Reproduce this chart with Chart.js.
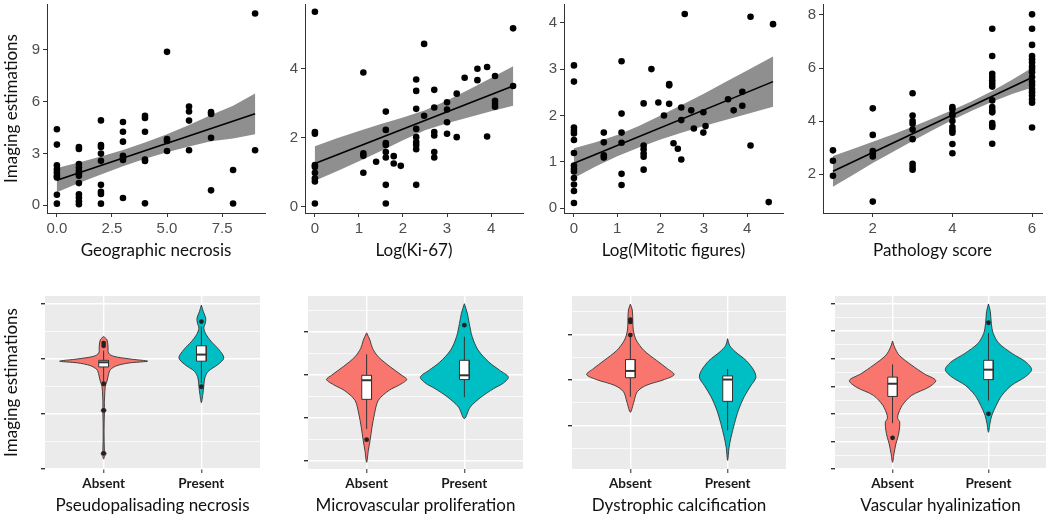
<!DOCTYPE html>
<html>
<head>
<meta charset="utf-8">
<script src="https://cdn.jsdelivr.net/npm/chart.js@4.4.1/dist/chart.umd.min.js"></script>
<style>
  html, body { margin: 0; padding: 0; background: #fff; width: 1050px; height: 516px; overflow: hidden; }
  canvas { position: absolute; }
</style>
</head>
<body>
<canvas id="necrosis" width="270" height="266" style="left:0;top:0"></canvas>
<canvas id="ki67" width="260" height="266" style="left:270px;top:0"></canvas>
<canvas id="mitotic" width="260" height="266" style="left:530px;top:0"></canvas>
<canvas id="pathology" width="260" height="266" style="left:790px;top:0"></canvas>
<canvas id="pseudo" width="270" height="246" style="left:0;top:270px"></canvas>
<canvas id="microvasc" width="260" height="246" style="left:270px;top:270px"></canvas>
<canvas id="calcif" width="260" height="246" style="left:530px;top:270px"></canvas>
<canvas id="hyalin" width="260" height="246" style="left:790px;top:270px"></canvas>
<script>
// ---- top row: imaging estimation vs pathology measure ----
const necrosisLevels = [0, 1, 2, 3, 4, 5, 6, 7, 8, 9];
const necrosisValues = [
  [4.40, 3.51, 2.31, 2.09, 1.90, 1.71, 1.61, 0.61, 0.09],
  [3.37, 3.26, 2.38, 2.19, 2.00, 1.85, 1.71, 1.28, 0.63, 0.44, 0.23, 0.06],
  [4.91, 3.49, 3.37, 2.99, 2.57, 1.18, 0.78, 0.65, 0.09],
  [4.82, 4.25, 3.68, 2.86, 2.72, 2.62, 0.42],
  [5.18, 5.05, 4.25, 2.64, 2.56, 0.11],
  [8.88, 3.83, 3.72, 3.14],
  [5.71, 5.43, 4.90, 3.18],
  [5.39, 5.28, 3.90, 0.86],
  [2.04, 0.10],
  [11.10, 3.18]
];
const necrosisFitX = [0, 9];
const necrosisFitY = [1.45, 5.29];
const necrosisBandX = [0, 1, 2, 3, 4, 5, 6, 7, 8, 9];
const necrosisBandLo = [0.75, 1.28, 1.78, 2.26, 2.69, 3.07, 3.40, 3.71, 3.86, 4.11];
const necrosisBandHi = [2.15, 2.48, 2.82, 3.20, 3.63, 4.11, 4.64, 5.23, 5.76, 6.47];

const ki67Levels = [0, 1.1, 1.39, 1.61, 1.79, 1.95, 2.3, 2.48, 2.71, 3.0, 3.22, 3.4, 3.69, 3.91, 4.09, 4.5];
const ki67Values = [
  [5.65, 2.17, 2.12, 1.21, 1.16, 0.99, 0.83, 0.74, 0.10],
  [3.89, 1.55, 1.48, 0.99],
  [1.31],
  [2.76, 2.23, 1.85, 1.79, 1.59, 1.43, 0.64, 0.10],
  [1.47, 1.26],
  [1.19],
  [3.69, 3.36, 2.84, 2.26, 2.02, 1.88, 1.79, 1.67, 0.64],
  [4.72, 2.64],
  [3.39, 2.88, 2.17, 2.07, 1.59, 1.43],
  [3.03, 2.82, 2.45, 2.12],
  [3.28, 2.02],
  [3.74],
  [4.00, 3.67],
  [4.05, 2.04],
  [3.79, 3.07, 2.98, 2.90],
  [5.17, 3.50]
];
const ki67FitX = [0, 4.5];
const ki67FitY = [1.26, 3.50];
const ki67BandX = [0, 0.5, 1, 1.5, 2, 2.5, 3, 3.5, 4, 4.5];
const ki67BandLo = [0.76, 1.03, 1.32, 1.62, 1.93, 2.22, 2.42, 2.60, 2.77, 2.93];
const ki67BandHi = [1.76, 1.99, 2.20, 2.40, 2.59, 2.80, 3.08, 3.40, 3.73, 4.07];

const mitoticLevels = [0, 0.69, 1.1, 1.61, 1.79, 1.95, 2.08, 2.2, 2.3, 2.4, 2.48, 2.56, 2.71, 2.77, 2.99, 3.04, 3.56, 3.69, 3.89, 4.08, 4.5, 4.6];
const mitoticValues = [
  [3.08, 2.73, 1.74, 1.67, 1.61, 1.47, 1.19, 0.92, 0.85, 0.79, 0.65, 0.51, 0.37, 0.11],
  [1.63, 1.42, 1.14, 1.09],
  [3.17, 2.04, 1.63, 1.41, 0.74, 0.50],
  [2.26, 1.35, 1.27, 1.18, 1.11, 0.83],
  [3.00],
  [2.28],
  [2.00],
  [2.68, 2.65, 2.25],
  [1.40],
  [1.28],
  [2.17, 1.90, 1.05],
  [4.19],
  [2.11],
  [1.72],
  [2.07, 1.63],
  [1.77],
  [2.35],
  [2.11],
  [2.51, 2.21],
  [4.13, 1.35],
  [0.13],
  [3.97]
];
const mitoticFitX = [0, 4.6];
const mitoticFitY = [0.97, 2.73];
const mitoticBandX = [0, 0.5, 1, 1.5, 2, 2.5, 3, 3.5, 4, 4.6];
const mitoticBandLo = [0.65, 0.90, 1.12, 1.31, 1.48, 1.63, 1.77, 1.90, 2.03, 2.19];
const mitoticBandHi = [1.29, 1.42, 1.58, 1.77, 2.00, 2.23, 2.47, 2.72, 2.97, 3.27];

const pathologyLevels = [1, 2, 3, 4, 5, 6];
const pathologyValues = [
  [2.90, 2.51, 1.94],
  [4.48, 3.48, 2.87, 2.78, 2.67, 0.97],
  [5.05, 4.21, 4.00, 3.90, 3.68, 3.32, 2.39, 2.27, 2.17],
  [4.53, 4.45, 4.27, 4.21, 4.00, 3.78, 3.66, 3.56, 3.14, 2.79],
  [7.48, 6.45, 5.78, 5.66, 5.54, 5.42, 5.30, 4.78, 4.53, 4.41, 4.33, 3.93, 3.84, 3.78, 3.15],
  [8.02, 7.48, 6.87, 6.45, 6.33, 6.21, 6.06, 5.96, 5.84, 5.66, 5.48, 5.36, 5.21, 5.09, 4.96, 4.81, 4.69, 3.76]
];
const pathologyFitX = [1, 6];
const pathologyFitY = [2.11, 5.64];
const pathologyBandX = [1, 1.5, 2, 2.5, 3, 3.5, 4, 4.5, 5, 5.5, 6];
const pathologyBandLo = [1.53, 1.97, 2.42, 2.84, 3.25, 3.66, 4.04, 4.40, 4.73, 5.02, 5.27];
const pathologyBandHi = [2.69, 2.95, 3.22, 3.50, 3.79, 4.10, 4.42, 4.76, 5.13, 5.56, 6.01];

// ---- bottom row: violins (outline = value, half width), boxes = [whisker lo, q1, median, q3, whisker hi] ----
const groups = ['Absent', 'Present'];

const pseudoAbsentV = [4.82, 4.70, 4.46, 4.22, 4.10, 4.00, 3.92, 3.86, 3.76, 3.61, 3.43, 3.19, 3.01, 2.65, 2.23, 2.13, 2.04, 0.66, 0.57, 0.45, 0.36];
const pseudoAbsentW = [0, 0.034, 0.045, 0.05, 0.10, 0.27, 0.45, 0.27, 0.137, 0.068, 0.05, 0.034, 0.017, 0.01, 0.008, 0.025, 0.008, 0.008, 0.025, 0.008, 0];
const pseudoPresentV = [5.96, 5.72, 5.48, 5.30, 5.12, 4.88, 4.64, 4.34, 4.04, 3.80, 3.55, 3.31, 3.01, 2.71, 2.41];
const pseudoPresentW = [0, 0.02, 0.045, 0.04, 0.025, 0.05, 0.10, 0.18, 0.23, 0.17, 0.07, 0.035, 0.025, 0.015, 0];
const pseudoBoxes = [[3.19, 3.71, 3.88, 3.95, 4.30], [3.13, 3.92, 4.16, 4.48, 5.18]];
const pseudoOutliers = [[4.58, 4.48, 3.10, 2.13, 0.57], [5.36, 2.99]];

const microAbsentV = [2.98, 2.81, 2.62, 2.42, 2.19, 1.99, 1.89, 1.76, 1.64, 1.41, 1.09, 0.78, 0.47, 0.23, -0.04];
const microAbsentW = [0, 0.034, 0.06, 0.12, 0.24, 0.36, 0.41, 0.33, 0.23, 0.12, 0.08, 0.055, 0.035, 0.017, 0];
const microPresentV = [3.66, 3.44, 3.20, 2.89, 2.58, 2.30, 2.11, 1.95, 1.81, 1.68, 1.48, 1.25, 0.98];
const microPresentW = [0, 0.03, 0.05, 0.08, 0.14, 0.25, 0.36, 0.45, 0.40, 0.30, 0.17, 0.06, 0];
const microBoxes = [[0.74, 1.43, 1.875, 1.99, 2.48], [1.48, 1.89, 1.99, 2.34, 2.89]];
const microOutliers = [[0.49], [3.16]];

const calcAbsentV = [3.67, 3.54, 3.32, 3.10, 2.88, 2.65, 2.43, 2.25, 2.12, 2.01, 1.88, 1.74, 1.51, 1.29];
const calcAbsentW = [0, 0.02, 0.025, 0.03, 0.06, 0.14, 0.27, 0.38, 0.45, 0.35, 0.16, 0.07, 0.035, 0];
const calcPresentV = [2.91, 2.76, 2.62, 2.43, 2.21, 2.05, 1.88, 1.63, 1.33, 1.04, 0.74, 0.52, 0.23];
const calcPresentW = [0, 0.02, 0.08, 0.19, 0.27, 0.29, 0.24, 0.17, 0.11, 0.07, 0.035, 0.015, 0];
const calcBoxes = [[1.63, 2.05, 2.20, 2.45, 2.96], [0.89, 1.53, 2.01, 2.09, 2.24]];
const calcOutliers = [[3.33, 3.28, 2.99], []];

const hyalAbsentV = [4.64, 4.42, 4.12, 3.76, 3.45, 3.21, 2.97, 2.67, 2.30, 1.94, 1.82, 1.70, 1.40, 1.15, 0.91, 0.55, 0.24];
const hyalAbsentW = [0, 0.02, 0.07, 0.20, 0.33, 0.45, 0.38, 0.20, 0.10, 0.055, 0.055, 0.075, 0.07, 0.055, 0.035, 0.015, 0];
const hyalPresentV = [5.98, 5.70, 5.27, 4.91, 4.55, 4.18, 3.88, 3.60, 3.33, 3.03, 2.67, 2.30, 1.94, 1.64, 1.33];
const hyalPresentW = [0, 0.02, 0.03, 0.05, 0.11, 0.25, 0.39, 0.45, 0.38, 0.24, 0.14, 0.08, 0.035, 0.015, 0];
const hyalBoxes = [[1.66, 2.63, 3.09, 3.33, 3.79], [2.48, 3.24, 3.60, 3.94, 4.93]];
const hyalOutliers = [[1.13], [5.30, 2.00]];

Chart.defaults.font.family = 'Lato, "DejaVu Sans", sans-serif';
Chart.defaults.animation = false;

const numFont = { family: '"Liberation Sans", Arial, sans-serif', size: 15 };
const titleFont = { size: 17 };

function points(xs, ys) {
  return xs.map((x, i) => ({ x, y: ys[i] }));
}

function scatterPanel(id, p) {
  const dots = p.levels.flatMap((x, i) => p.values[i].map(y => ({ x, y })));
  const band = points(p.bandX, p.bandHi).concat(points(p.bandX, p.bandLo).reverse());
  const yScale = {
    min: p.yMin, max: p.yMax,
    afterBuildTicks: s => { s.ticks = p.yTicks.map(v => ({ value: v })); },
    afterFit: s => { s.width = p.yWidth; s.paddingTop = 0; s.paddingBottom = 0; },
    ticks: { color: '#4d4d4d', font: numFont, padding: 3 },
    grid: { drawOnChartArea: false, tickLength: 4, tickColor: '#333' },
    border: { color: '#333', width: 1 }
  };
  if (p.yTitle) {
    yScale.title = { display: true, text: p.yTitle, color: '#111', font: titleFont, padding: { top: 1, bottom: 0 } };
  }
  new Chart(document.getElementById(id), {
    type: 'scatter',
    data: {
      datasets: [
        { data: dots, pointRadius: 3.3, pointBackgroundColor: '#000', pointBorderWidth: 0, order: 0 },
        { data: points(p.fitX, p.fitY), showLine: true, borderColor: '#000', borderWidth: 1.6, pointRadius: 0, order: 1 },
        { data: band, showLine: true, fill: 'shape', backgroundColor: '#8f8f8f', borderColor: 'rgba(0,0,0,0)', borderWidth: 0, pointRadius: 0, order: 2 }
      ]
    },
    options: {
      responsive: false,
      events: [],
      layout: { padding: { top: 0, right: p.padRight, left: 0, bottom: 0 } },
      plugins: { legend: { display: false }, tooltip: { enabled: false } },
      scales: {
        x: {
          type: 'linear', min: p.xMin, max: p.xMax,
          afterBuildTicks: s => { s.ticks = p.xTicks.map(v => ({ value: v })); },
          afterFit: s => { s.height = 53; s.paddingLeft = 0; s.paddingRight = 0; },
          ticks: { color: '#4d4d4d', font: numFont, padding: 3, maxRotation: 0, autoSkip: false, callback: p.xFormat },
          grid: { drawOnChartArea: false, tickLength: 4, tickColor: '#333' },
          border: { color: '#333', width: 1 },
          title: { display: true, text: p.xTitle, color: '#111', font: titleFont, padding: { top: 2, bottom: 5 } }
        },
        y: yScale
      }
    }
  });
}

const panelBg = {
  id: 'panelBg',
  beforeDraw(chart) {
    const { ctx, chartArea: a } = chart;
    ctx.save();
    ctx.fillStyle = '#ebebeb';
    ctx.fillRect(a.left, a.top, a.width, a.height);
    ctx.restore();
  }
};

function violinOutline(c, vs, ws) {
  const left = vs.map((v, i) => ({ x: c - ws[i], y: v }));
  const right = vs.map((v, i) => ({ x: c + ws[i], y: v })).reverse().slice(1);
  return left.concat(right);
}

function violinPanel(id, p) {
  const sets = [];
  const hw = 0.05;
  [0, 1].forEach(g => {
    const c = g + 1;
    const b = p.boxes[g];
    sets.push({ data: p.outliers[g].map(y => ({ x: c, y })), pointRadius: 2.4, pointBackgroundColor: '#222', pointBorderWidth: 0, order: 0 });
    sets.push({ data: [{ x: c - hw, y: b[2] }, { x: c + hw, y: b[2] }], showLine: true, borderColor: '#333', borderWidth: 2, pointRadius: 0, order: 1 });
    sets.push({
      data: [{ x: c - hw, y: b[1] }, { x: c - hw, y: b[3] }, { x: c + hw, y: b[3] }, { x: c + hw, y: b[1] }, { x: c - hw, y: b[1] }],
      showLine: true, fill: 'shape', backgroundColor: '#fff', borderColor: '#333', borderWidth: 1, pointRadius: 0, order: 2
    });
    sets.push({ data: [{ x: c, y: b[0] }, { x: c, y: b[4] }], showLine: true, borderColor: '#333', borderWidth: 1, pointRadius: 0, order: 3 });
    sets.push({
      data: violinOutline(c, p.v[g], p.w[g]), showLine: true, fill: 'shape', tension: 0.3,
      backgroundColor: ['#F8766D', '#00BFC4'][g], borderColor: '#333', borderWidth: 0.9, pointRadius: 0, order: 4
    });
  });
  const isMajor = c => c.tick && p.majors.includes(c.tick.value);
  const yScale = {
    min: p.yMin, max: p.yMax,
    afterBuildTicks: s => { s.ticks = p.majors.concat(p.minors).map(v => ({ value: v })); },
    afterFit: s => { s.width = p.yWidth; s.paddingTop = 0; s.paddingBottom = 0; },
    ticks: { display: false },
    grid: {
      color: '#fff',
      lineWidth: c => isMajor(c) ? 1.4 : 0.7,
      tickLength: 4,
      tickColor: c => isMajor(c) ? '#333' : 'rgba(0,0,0,0)'
    },
    border: { display: false }
  };
  if (p.yTitle) {
    yScale.title = { display: true, text: p.yTitle, color: '#111', font: titleFont, padding: { top: 1, bottom: 0 } };
  }
  new Chart(document.getElementById(id), {
    type: 'scatter',
    data: { datasets: sets },
    options: {
      responsive: false,
      events: [],
      layout: { padding: { top: 26, right: p.padRight, left: 0, bottom: 0 } },
      plugins: { legend: { display: false }, tooltip: { enabled: false } },
      scales: {
        x: {
          type: 'linear', min: 0.4, max: 2.6,
          afterBuildTicks: s => { s.ticks = [{ value: 1 }, { value: 2 }]; },
          afterFit: s => { s.height = 47; s.paddingLeft = 0; s.paddingRight = 0; },
          ticks: { color: '#1a1a1a', font: { size: 13.5, weight: 'bold' }, padding: 3, maxRotation: 0, autoSkip: false, callback: v => groups[v - 1] },
          grid: { color: '#fff', lineWidth: 1.4, tickLength: 4, tickColor: '#666' },
          border: { display: false },
          title: { display: true, text: p.xTitle, color: '#111', font: titleFont, padding: { top: 2, bottom: 0 } }
        },
        y: yScale
      }
    },
    plugins: [panelBg]
  });
}

scatterPanel('necrosis', {
  levels: necrosisLevels, values: necrosisValues, fitX: necrosisFitX, fitY: necrosisFitY,
  bandX: necrosisBandX, bandLo: necrosisBandLo, bandHi: necrosisBandHi,
  xMin: -0.45, xMax: 9.45, xTicks: [0, 2.5, 5, 7.5], xFormat: v => v.toFixed(1),
  yMin: -0.45, yMax: 11.65, yTicks: [0, 3, 6, 9],
  xTitle: 'Geographic necrosis', yTitle: 'Imaging estimations', yWidth: 47, padRight: 5
});
scatterPanel('ki67', {
  levels: ki67Levels, values: ki67Values, fitX: ki67FitX, fitY: ki67FitY,
  bandX: ki67BandX, bandLo: ki67BandLo, bandHi: ki67BandHi,
  xMin: -0.225, xMax: 4.725, xTicks: [0, 1, 2, 3, 4], xFormat: v => String(v),
  yMin: -0.175, yMax: 5.875, yTicks: [0, 2, 4],
  xTitle: 'Log(Ki-67)', yWidth: 35, padRight: 7
});
scatterPanel('mitotic', {
  levels: mitoticLevels, values: mitoticValues, fitX: mitoticFitX, fitY: mitoticFitY,
  bandX: mitoticBandX, bandLo: mitoticBandLo, bandHi: mitoticBandHi,
  xMin: -0.23, xMax: 4.83, xTicks: [0, 1, 2, 3, 4], xFormat: v => String(v),
  yMin: -0.105, yMax: 4.405, yTicks: [0, 1, 2, 3, 4],
  xTitle: 'Log(Mitotic figures)', yWidth: 34, padRight: 7
});
scatterPanel('pathology', {
  levels: pathologyLevels, values: pathologyValues, fitX: pathologyFitX, fitY: pathologyFitY,
  bandX: pathologyBandX, bandLo: pathologyBandLo, bandHi: pathologyBandHi,
  xMin: 0.75, xMax: 6.25, xTicks: [2, 4, 6], xFormat: v => String(v),
  yMin: 0.54, yMax: 8.41, yTicks: [2, 4, 6, 8],
  xTitle: 'Pathology score', yWidth: 33, padRight: 8
});

violinPanel('pseudo', {
  v: [pseudoAbsentV, pseudoPresentV], w: [pseudoAbsentW, pseudoPresentW],
  boxes: pseudoBoxes, outliers: pseudoOutliers,
  yMin: 0, yMax: 6.29, majors: [0, 2, 4, 6], minors: [1, 3, 5],
  xTitle: 'Pseudopalisading necrosis', yTitle: 'Imaging estimations', yWidth: 45, padRight: 10
});
violinPanel('microvasc', {
  v: [microAbsentV, microPresentV], w: [microAbsentW, microPresentW],
  boxes: microBoxes, outliers: microOutliers,
  yMin: -0.195, yMax: 3.84, majors: [0, 1, 2, 3], minors: [0.5, 1.5, 2.5, 3.5],
  xTitle: 'Microvascular proliferation', yWidth: 38, padRight: 7
});
violinPanel('calcif', {
  v: [calcAbsentV, calcPresentV], w: [calcAbsentW, calcPresentW],
  boxes: calcBoxes, outliers: calcOutliers,
  yMin: 0.04, yMax: 3.85, majors: [1, 2, 3], minors: [0.5, 1.5, 2.5, 3.5],
  xTitle: 'Dystrophic calcification', yWidth: 42, padRight: 4
});
violinPanel('hyalin', {
  v: [hyalAbsentV, hyalPresentV], w: [hyalAbsentW, hyalPresentW],
  boxes: hyalBoxes, outliers: hyalOutliers,
  yMin: 0, yMax: 6.27, majors: [0, 1, 2, 3, 4, 5, 6], minors: [0.5, 1.5, 2.5, 3.5, 4.5, 5.5],
  xTitle: 'Vascular hyalinization', yWidth: 45, padRight: 0
});
</script>
</body>
</html>
